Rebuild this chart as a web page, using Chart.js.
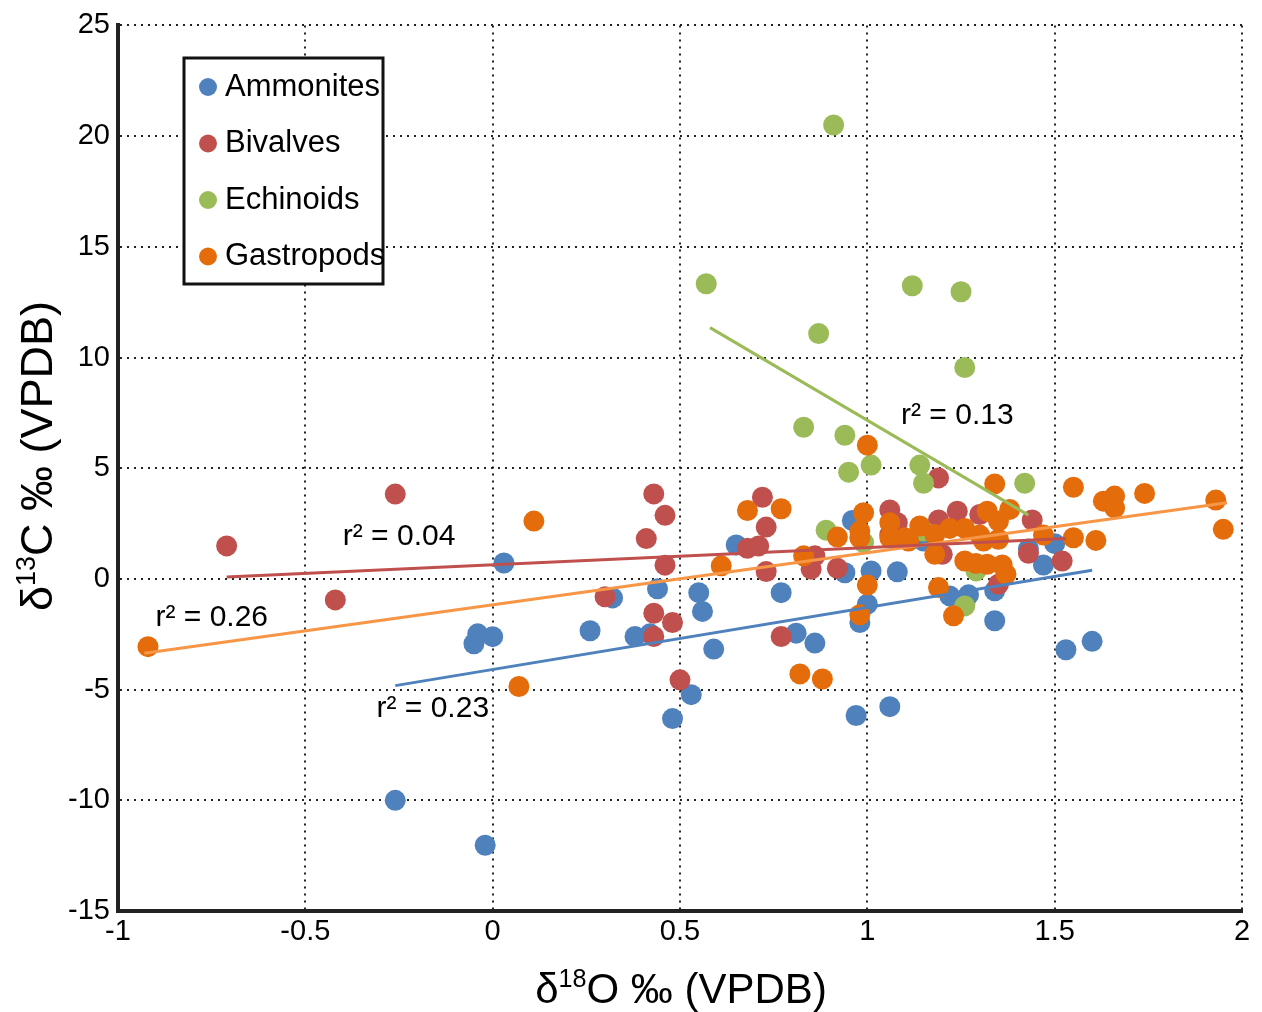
<!DOCTYPE html>
<html>
<head>
<meta charset="utf-8">
<script src="https://cdn.jsdelivr.net/npm/chart.js@4.4.1/dist/chart.umd.min.js"></script>
<style>
  html, body { margin: 0; padding: 0; background: #fff; }
  #wrap { width: 1262px; height: 1012px; }
</style>
</head>
<body>
<div id="wrap"><canvas id="isoChart" width="1262" height="1012"></canvas></div>
<script>
// d18O (x), d13C (y) pairs
const ammonites = [
  [0.03, 0.72], [-0.26, -10.0], [-0.02, -12.03], [-0.04, -2.48], [-0.05, -2.93], [0.0, -2.61],
  [0.26, -2.34], [0.32, -0.86], [0.44, -0.45], [0.38, -2.6], [0.42, -2.48], [0.55, -0.62],
  [0.56, -1.47], [0.59, -3.17], [0.53, -5.23], [0.48, -6.31], [0.65, 1.53], [0.77, -0.62],
  [0.81, -2.45], [0.86, -2.9], [0.94, 0.28], [0.96, 2.64], [1.01, 0.36], [1.0, -1.14],
  [0.98, -1.97], [0.97, -6.17], [1.06, -5.77], [1.08, 0.32], [1.22, -0.77], [1.27, -0.72],
  [1.26, -1.14], [1.34, -0.54], [1.34, -1.89], [1.47, 0.63], [1.5, 1.59], [1.53, -3.2],
  [1.6, -2.82], [1.43, 1.35], [1.15, 1.71]
];
const bivalves = [
  [-0.71, 1.49], [-0.42, -0.95], [-0.26, 3.83], [0.43, 3.84], [0.46, 2.87], [0.41, 1.82],
  [0.46, 0.62], [0.3, -0.81], [0.43, -1.55], [0.48, -1.97], [0.43, -2.6], [0.5, -4.56],
  [0.72, 3.69], [0.73, 2.34], [0.71, 1.49], [0.68, 1.38], [0.73, 0.33], [0.77, -2.6],
  [0.86, 1.04], [0.85, 0.44], [0.92, 0.48], [1.19, 4.56], [1.06, 3.11], [1.08, 2.54],
  [1.19, 2.66], [1.24, 3.06], [1.3, 2.91], [1.44, 2.66], [1.43, 1.16], [1.52, 0.81],
  [1.2, 1.11], [1.35, -0.24], [1.06, 2.0]
];
const echinoids = [
  [0.91, 20.5], [0.57, 13.33], [1.12, 13.24], [1.25, 12.97], [0.87, 11.08], [1.26, 9.55],
  [0.83, 6.85], [0.94, 6.49], [0.95, 4.82], [1.01, 5.14], [1.14, 5.14], [1.15, 4.32],
  [1.42, 4.32], [0.89, 2.2], [0.99, 1.64], [1.29, 0.36], [1.26, -1.22], [1.15, 2.16]
];
const gastropods = [
  [-0.92, -3.06], [0.07, -4.86], [0.11, 2.61], [0.61, 0.59], [0.68, 3.09], [0.77, 3.17],
  [0.83, 1.04], [0.92, 1.89], [0.98, 2.16], [0.98, 1.86], [0.99, 2.99], [1.0, -0.28],
  [0.98, -1.62], [0.82, -4.29], [0.88, -4.52], [1.0, 6.04], [1.34, 4.29], [1.55, 4.14],
  [1.74, 3.86], [1.66, 3.74], [1.63, 3.51], [1.66, 3.21], [1.93, 3.56], [1.95, 2.24],
  [1.55, 1.86], [1.61, 1.74], [1.47, 1.98], [1.38, 3.14], [1.32, 3.06], [1.35, 2.61],
  [1.06, 2.54], [1.06, 1.86], [1.14, 2.39], [1.18, 2.01], [1.22, 2.28], [1.26, 2.28],
  [1.3, 1.98], [1.31, 1.71], [1.35, 1.79], [1.18, 1.11], [1.26, 0.81], [1.29, 0.69],
  [1.32, 0.66], [1.36, 0.63], [1.37, 0.21], [1.19, -0.39], [1.23, -1.67], [1.1, 1.86],
  [1.11, 1.71]
];

// regression line end points
const trendAmmonites = [[-0.26, -4.82], [1.6, 0.39]];
const trendBivalves = [[-0.71, 0.09], [1.53, 1.83]];
const trendEchinoids = [[0.58, 11.35], [1.43, 2.88]];
const trendGastropods = [[-0.93, -3.36], [1.96, 3.44]];

const seriesNames = ["Ammonites", "Bivalves", "Echinoids", "Gastropods"];
const r2Labels = ["r² = 0.23", "r² = 0.04", "r² = 0.13", "r² = 0.26"];
const r2Anchors = [[-0.31, -5.86], [-0.4, 1.89], [1.09, 7.39], [-0.9, -1.76]];

const xTicks = [-1, -0.5, 0, 0.5, 1, 1.5, 2];
const yTicks = [-15, -10, -5, 0, 5, 10, 15, 20, 25];

const markerColors = ["#4F81BD", "#C0504D", "#9BBB59", "#E46C0A"];
const lineColors = ["#4F81BD", "#C0504D", "#9BBB59", "#F79646"];
const FONT = "'Liberation Sans', Arial, Helvetica, sans-serif";

const toXY = (arr) => arr.map((p) => ({ x: p[0], y: p[1] }));

function pointSet(label, data, i) {
  return {
    label: label,
    data: toXY(data),
    backgroundColor: markerColors[i],
    borderColor: markerColors[i],
    pointRadius: 10.5,
    pointBorderWidth: 0,
    order: 4 - i,
  };
}

function lineSet(data, i) {
  return {
    label: "trend" + i,
    data: toXY(data),
    showLine: true,
    borderColor: lineColors[i],
    borderWidth: 3,
    pointRadius: 0,
    order: 0,
  };
}

// axis titles with superscripts
function drawRich(ctx, parts, size, cx, cy) {
  let total = 0;
  parts.forEach((p) => {
    ctx.font = (p.sup ? size * 0.6 : size) + "px " + FONT;
    p.w = ctx.measureText(p.t).width;
    total += p.w;
  });
  let x = cx - total / 2;
  ctx.textAlign = "left";
  ctx.textBaseline = "alphabetic";
  parts.forEach((p) => {
    ctx.font = (p.sup ? size * 0.6 : size) + "px " + FONT;
    ctx.fillText(p.t, x, cy + size * 0.36 - (p.sup ? size * 0.38 : 0));
    x += p.w;
  });
}

const decorPlugin = {
  id: "decor",
  afterDraw(chart) {
    const ctx = chart.ctx;
    const xs = chart.scales.x;
    const ys = chart.scales.y;
    const area = chart.chartArea;
    ctx.save();
    ctx.fillStyle = "#000";

    // r² annotations
    ctx.font = "30px " + FONT;
    ctx.textAlign = "left";
    ctx.textBaseline = "middle";
    r2Labels.forEach((t, i) => {
      ctx.fillText(t, xs.getPixelForValue(r2Anchors[i][0]), ys.getPixelForValue(r2Anchors[i][1]));
    });

    // x title
    drawRich(ctx, [{ t: "δ" }, { t: "18", sup: true }, { t: "O ‰ (VPDB)" }], 42,
      (area.left + area.right) / 2 + 1, 988);

    // y title
    ctx.save();
    ctx.translate(36, 456);
    ctx.rotate(-Math.PI / 2);
    drawRich(ctx, [{ t: "δ" }, { t: "13", sup: true }, { t: "C ‰ (VPDB)" }], 45, 0, 0);
    ctx.restore();

    // legend box
    const bx = 184, by = 58, bw = 199, bh = 226;
    ctx.fillStyle = "#fff";
    ctx.fillRect(bx, by, bw, bh);
    ctx.lineWidth = 3;
    ctx.strokeStyle = "#111";
    ctx.strokeRect(bx, by, bw, bh);
    ctx.font = "31px " + FONT;
    ctx.textBaseline = "middle";
    ctx.textAlign = "left";
    seriesNames.forEach((name, i) => {
      const ly = 87 + i * 56.5;
      ctx.fillStyle = markerColors[i];
      ctx.beginPath();
      ctx.arc(208, ly, 9, 0, Math.PI * 2);
      ctx.fill();
      ctx.fillStyle = "#000";
      ctx.fillText(name, 225, ly);
    });
    ctx.restore();
  },
};

function initChart() {
  const ctx = document.getElementById("isoChart").getContext("2d");
  new Chart(ctx, {
    type: "scatter",
    data: {
      datasets: [
        pointSet(seriesNames[0], ammonites, 0),
        pointSet(seriesNames[1], bivalves, 1),
        pointSet(seriesNames[2], echinoids, 2),
        pointSet(seriesNames[3], gastropods, 3),
        lineSet(trendAmmonites, 0),
        lineSet(trendBivalves, 1),
        lineSet(trendEchinoids, 2),
        lineSet(trendGastropods, 3),
      ],
    },
    options: {
      responsive: false,
      animation: false,
      layout: { padding: { left: 0, top: 22, right: 20, bottom: 0 } },
      plugins: {
        legend: { display: false },
        tooltip: { enabled: false },
      },
      scales: {
        x: {
          type: "linear",
          min: -1,
          max: 2,
          afterBuildTicks: (s) => { s.ticks = xTicks.map((v) => ({ value: v })); },
          afterFit: (s) => { s.height = 101; },
          ticks: {
            color: "#000", font: { family: FONT, size: 29 }, padding: 4, maxRotation: 0,
            callback: (v) => String(v),
          },
          grid: { color: "#222", lineWidth: 2, drawTicks: false },
          border: { display: true, color: "#222", width: 4, dash: [2, 5] },
        },
        y: {
          type: "linear",
          min: -15,
          max: 25,
          afterBuildTicks: (s) => { s.ticks = yTicks.map((v) => ({ value: v })); },
          afterFit: (s) => { s.width = 118; },
          ticks: { color: "#000", font: { family: FONT, size: 29 }, padding: 8, callback: (v) => String(v) },
          grid: { color: "#222", lineWidth: 2, drawTicks: false },
          border: { display: true, color: "#222", width: 4, dash: [2, 5] },
        },
      },
    },
    plugins: [decorPlugin],
  });
}

window.onload = initChart;
</script>
</body>
</html>
